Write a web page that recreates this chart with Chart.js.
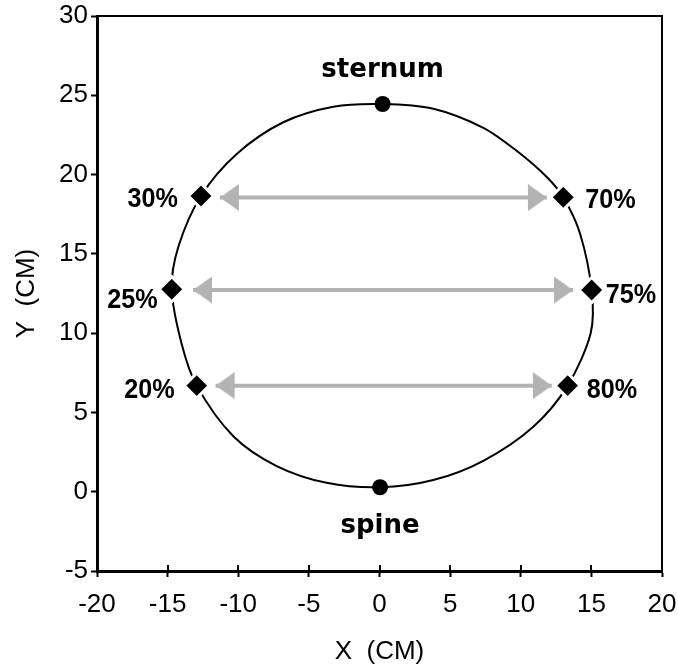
<!DOCTYPE html>
<html><head><meta charset="utf-8">
<script src="https://cdn.jsdelivr.net/npm/chart.js@4/dist/chart.umd.min.js"></script>
<style>html,body{margin:0;padding:0;background:#fff}#wrap{width:678px;height:670px}</style>
</head><body><div id="wrap"><canvas id="c" width="678" height="670"></canvas></div>
<script>
// ---- data ----
// contour traced clockwise from the sternum; first/last entries wrap around so the loop closes smoothly
const contourX = [-3.27, 0.22, 3.81, 7.35, 9.71, 11.84, 13.01, 14.19, 15.02, 14.95, 13.32, 10.89, 7.35, 3.81, 0.04, -3.74, -7.28, -10.35, -12.94, -14.0, -14.71, -14.24, -12.64, -10.11, -6.81, -3.27, 0.22, 3.81];
const contourY = [24.28, 24.45, 24.15, 22.95, 21.5, 19.85, 18.57, 16.3, 12.72, 9.99, 6.69, 4.1, 1.95, 0.74, 0.28, 0.56, 1.62, 3.5, 6.69, 9.3, 12.77, 15.45, 18.65, 21.3, 23.3, 24.28, 24.45, 24.15];
const markerLabels = ['30%', '25%', '20%', '70%', '75%', '80%'];
const markerX = [-12.64, -14.71, -12.94, 13.01, 15.02, 13.32];
const markerY = [18.65, 12.77, 6.69, 18.57, 12.72, 6.69];
const landmarkLabels = ['sternum', 'spine'];
const landmarkX = [0.22, 0.04];
const landmarkY = [24.45, 0.28];
const arrowLeftX = [-11.3, -13.2, -11.6];
const arrowRightX = [11.85, 13.7, 12.2];
const arrowY = [18.55, 12.72, 6.69];
const xTicks = [-20, -15, -10, -5, 0, 5, 10, 15, 20];
const yTicks = [-5, 0, 5, 10, 15, 20, 25, 30];
const xTitle = 'X  (CM)';
const yTitle = 'Y  (CM)';

// ---- styling ----
const GRAY = '#b3b3b3';
function makeHead() {
  const c = document.createElement('canvas');
  c.width = 40; c.height = 27;
  const g = c.getContext('2d');
  g.fillStyle = GRAY;
  g.beginPath(); g.moveTo(1, 0); g.lineTo(20, 13.5); g.lineTo(1, 27); g.closePath(); g.fill();
  return c;
}
const head = makeHead();

const labelStyle = {
  '30%': {dx: -23, dy: 11, align: 'right'},
  '25%': {dx: -14, dy: 19, align: 'right'},
  '20%': {dx: -22, dy: 12, align: 'right'},
  '70%': {dx: 22, dy: 11, align: 'left'},
  '75%': {dx: 14, dy: 13, align: 'left'},
  '80%': {dx: 19, dy: 12, align: 'left'},
  'sternum': {dx: 0, dy: -27, align: 'center'},
  'spine': {dx: 0, dy: 46, align: 'center'}
};

const nC = contourX.length;
const datasets = [];
datasets.push({
  label: 'markers', order: 0,
  data: markerX.map((x, i) => ({x, y: markerY[i]})),
  showLine: false, pointStyle: 'rectRot', pointRadius: 12.5,
  backgroundColor: '#000', borderColor: '#fff', borderWidth: 3, clip: false
});
datasets.push({
  label: 'landmarks', order: 1,
  data: landmarkX.map((x, i) => ({x, y: landmarkY[i]})),
  showLine: false, pointStyle: 'circle', pointRadius: 8,
  backgroundColor: '#000', borderColor: '#000', borderWidth: 0, clip: false
});
arrowY.forEach((y, i) => {
  datasets.push({
    label: 'arrow' + i, order: 2,
    data: [{x: arrowLeftX[i], y}, {x: arrowRightX[i], y}],
    showLine: true, borderColor: GRAY, borderWidth: 4, borderCapStyle: 'butt',
    pointStyle: head, pointRadius: 6, pointRotation: [180, 0], clip: false
  });
});
datasets.push({
  label: 'contour', order: 3,
  data: contourX.map((x, i) => ({x, y: contourY[i]})),
  showLine: true, borderColor: '#000', borderWidth: 2, tension: 0.3,
  pointRadius: 0, clip: false,
  segment: {
    borderColor: ctx => (ctx.p0DataIndex === 0 || ctx.p1DataIndex === nC - 1) ? 'rgba(0,0,0,0)' : '#000'
  }
});

const decor = {
  id: 'decor',
  beforeDatasetsDraw(chart) {
    const {ctx, chartArea: a, scales: {x}} = chart;
    ctx.save();
    ctx.strokeStyle = '#000';
    ctx.lineWidth = 2;
    ctx.beginPath();
    ctx.moveTo(a.left, a.top); ctx.lineTo(a.right, a.top); ctx.lineTo(a.right, a.bottom);
    ctx.stroke();
    ctx.beginPath();
    xTicks.forEach(v => {
      const px = Math.round(x.getPixelForValue(v));
      ctx.moveTo(px, a.bottom); ctx.lineTo(px, a.bottom - 6);
    });
    ctx.stroke();
    ctx.restore();
  },
  afterDatasetsDraw(chart) {
    const {ctx, scales: {x, y}} = chart;
    ctx.save();
    ctx.fillStyle = '#000';
    ctx.textBaseline = 'alphabetic';
    const draw = (txt, vx, vy, font, sx) => {
      const st = labelStyle[txt];
      const px = x.getPixelForValue(vx) + st.dx;
      const py = y.getPixelForValue(vy) + st.dy;
      ctx.font = font;
      ctx.textAlign = st.align;
      ctx.save();
      ctx.translate(px, py);
      ctx.scale(sx, 1);
      ctx.fillText(txt, 0, 0);
      ctx.restore();
    };
    markerLabels.forEach((t, i) => draw(t, markerX[i], markerY[i], 'bold 28px "Liberation Sans", Arial, sans-serif', 0.9));
    landmarkLabels.forEach((t, i) => draw(t, landmarkX[i], landmarkY[i], 'bold 26px "DejaVu Sans", sans-serif', 1));
    ctx.restore();
  }
};

Chart.defaults.font.family = '"Liberation Sans", Arial, sans-serif';
Chart.defaults.color = '#000';

new Chart(document.getElementById('c'), {
  type: 'scatter',
  data: {datasets},
  options: {
    responsive: false, animation: false, devicePixelRatio: 1,
    layout: {padding: {top: 16, right: 16, left: 0, bottom: 0}},
    plugins: {legend: {display: false}, tooltip: {enabled: false}},
    scales: {
      x: {
        type: 'linear', min: -20, max: 20,
        afterBuildTicks: s => { s.ticks = xTicks.map(v => ({value: v})); },
        afterFit: s => { s.height = 99; s.paddingLeft = 0; s.paddingRight = 0; },
        grid: {drawOnChartArea: false, tickLength: 6, tickWidth: 2, color: '#000'},
        border: {display: true, color: '#000', width: 3},
        ticks: {font: {size: 26}, padding: 12, maxRotation: 0, autoSkip: false},
        title: {display: true, text: xTitle, font: {size: 26, lineHeight: 1}, padding: {top: 0, bottom: 5}}
      },
      y: {
        type: 'linear', min: -5, max: 30,
        afterBuildTicks: s => { s.ticks = yTicks.map(v => ({value: v})); },
        afterFit: s => { s.width = 97; s.paddingTop = 0; s.paddingBottom = 0; },
        grid: {drawOnChartArea: false, tickLength: 6, tickWidth: 2, color: '#000'},
        border: {display: true, color: '#000', width: 3},
        ticks: {font: {size: 26}, padding: 3, autoSkip: false},
        title: {display: true, text: yTitle, font: {size: 26, lineHeight: 1}, padding: {top: 14, bottom: 0}}
      }
    }
  },
  plugins: [decor]
});
</script></body></html>
